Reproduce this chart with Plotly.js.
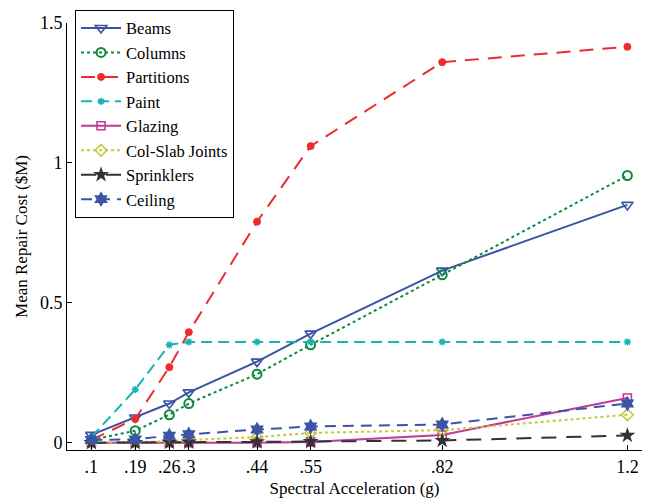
<!DOCTYPE html>
<html>
<head>
<meta charset="utf-8">
<script src="https://cdn.plot.ly/plotly-3.0.1.min.js"></script>
<style>
  html, body { margin: 0; padding: 0; background: #fff; }
  #chart { width: 646px; height: 501px; }
</style>
</head>
<body>
<div id="chart"></div>
<script>
// Spectral acceleration levels (g)
const sa = [0.1, 0.19, 0.26, 0.3, 0.44, 0.55, 0.82, 1.2];
const saLabels = ['.1', '.19', '.26', '.3', '.44', '.55', '.82', '1.2'];

// Mean repair cost per component group ($M)
const beams        = [0.028, 0.09, 0.14, 0.18, 0.29, 0.39, 0.615, 0.85];
const columns      = [0.01, 0.043, 0.10, 0.14, 0.245, 0.35, 0.60, 0.955];
const partitions   = [0.01, 0.085, 0.27, 0.395, 0.79, 1.06, 1.36, 1.415];
const paint        = [0.02, 0.19, 0.35, 0.36, 0.36, 0.36, 0.36, 0.36];
const glazing      = [0.0, 0.0, 0.0, 0.0, 0.0, 0.003, 0.028, 0.16];
const colSlab      = [0.0, 0.002, 0.005, 0.01, 0.02, 0.035, 0.045, 0.10];
const sprinklers   = [0.0, 0.0, 0.001, 0.002, 0.003, 0.004, 0.008, 0.026];
const ceiling      = [0.01, 0.012, 0.025, 0.03, 0.047, 0.058, 0.065, 0.14];

const seriesNames = ['Beams', 'Columns', 'Partitions', 'Paint', 'Glazing',
                     'Col-Slab Joints', 'Sprinklers', 'Ceiling'];
const seriesData = [beams, columns, partitions, paint, glazing, colSlab, sprinklers, ceiling];

const styles = [
  {color: '#3a53a4', dash: 'solid',      symbol: 'triangle-down-open', size: 10, mw: 1.6},
  {color: '#0b8a3c', dash: 'dot',        symbol: 'circle-open',        size: 9,  mw: 2},
  {color: '#ee2b2e', dash: '14px,9px',   symbol: 'circle',             size: 7,  mw: 1},
  {color: '#19b3b3', dash: '11px,6px',   symbol: 'asterisk-open',      size: 6,  mw: 1.6},
  {color: '#c13a97', dash: 'solid',      symbol: 'square-open',        size: 8,  mw: 1.6},
  {color: '#c4c83a', dash: 'dot',        symbol: 'diamond-open',       size: 9,  mw: 1.6},
  {color: '#333333', dash: '15px,10px',  symbol: 'star',               size: 12, mw: 0},
  {color: '#3a55a8', dash: '11px,7px',   symbol: 'hexagram',           size: 12, mw: 0}
];

const traces = seriesNames.map((name, i) => ({
  type: 'scatter',
  mode: 'lines+markers',
  name: name,
  x: sa,
  y: seriesData[i],
  line: {color: styles[i].color, width: 2, dash: styles[i].dash},
  marker: {
    symbol: styles[i].symbol,
    size: styles[i].size,
    color: styles[i].color,
    line: {color: styles[i].color, width: styles[i].mw}
  }
}));

const serif = '"Liberation Serif", "Times New Roman", Times, serif';

const layout = {
  width: 646,
  height: 501,
  margin: {l: 67, r: 4, t: 23, b: 51},
  paper_bgcolor: '#ffffff',
  plot_bgcolor: '#ffffff',
  font: {family: serif, size: 17, color: '#000'},
  showlegend: true,
  legend: {
    x: 0.014, y: 1.031, xanchor: 'left', yanchor: 'top',
    bgcolor: '#ffffff', bordercolor: '#000', borderwidth: 1,
    font: {family: serif, size: 16.5, color: '#000'},
    tracegroupgap: 0,
    itemwidth: 40
  },
  xaxis: {
    range: [0.05, 1.23],
    tickmode: 'array',
    tickvals: sa,
    ticktext: saLabels,
    tickangle: 0,
    ticks: 'inside', ticklen: 5, tickwidth: 1, tickcolor: '#000',
    showline: true, linecolor: '#000', linewidth: 1, mirror: false,
    showgrid: false, zeroline: false,
    tickfont: {family: serif, size: 18, color: '#000'},
    title: {text: 'Spectral Acceleration (g)', font: {family: serif, size: 17, color: '#000'}, standoff: 6}
  },
  yaxis: {
    range: [-0.026, 1.5],
    tickmode: 'array',
    tickvals: [0, 0.5, 1, 1.5],
    ticktext: ['0', '0.5', '1', '1.5'],
    ticks: 'inside', ticklen: 5, tickwidth: 1, tickcolor: '#000',
    showline: true, linecolor: '#000', linewidth: 1, mirror: false,
    showgrid: false, zeroline: false,
    tickfont: {family: serif, size: 18, color: '#000'},
    title: {text: 'Mean Repair Cost ($M)', font: {family: serif, size: 17, color: '#000'}, standoff: 7}
  }
};

Plotly.newPlot('chart', traces, layout, {displayModeBar: false, staticPlot: true});
</script>
</body>
</html>
